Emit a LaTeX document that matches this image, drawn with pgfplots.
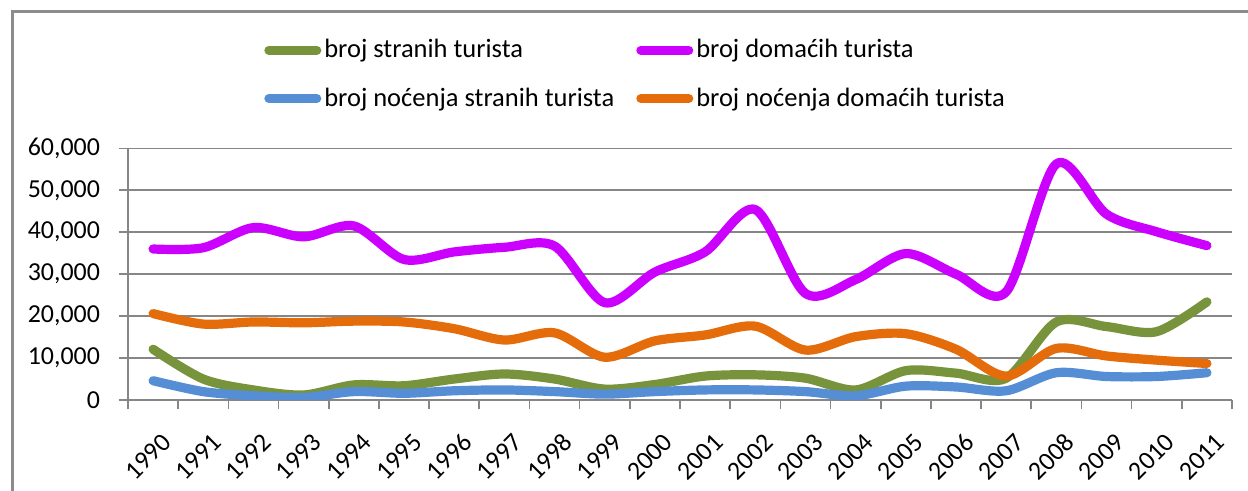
\documentclass[border=0pt]{standalone}
\usepackage{fontspec}
\setmainfont{Carlito}
\usepackage{pgfplots}
\pgfplotsset{compat=1.18}
\definecolor{cgreen}{RGB}{119,147,60}
\definecolor{cmag}{RGB}{204,0,255}
\definecolor{cblue}{RGB}{85,142,213}
\definecolor{corange}{RGB}{228,108,10}
\definecolor{gridgray}{RGB}{134,134,134}
\definecolor{framegray}{RGB}{140,140,140}
\begin{document}
\begin{tikzpicture}
\useasboundingbox (0,0) rectangle (624bp,245.5bp);
\draw[framegray, line width=1.3bp] (6.25bp,-2bp) -- (6.25bp,239.75bp) -- (630bp,239.75bp);
\begin{axis}[
  at={(64bp,45.5bp)}, anchor=south west,
  scale only axis, width=552bp, height=125.85bp,
  xmin=-0.5, xmax=21.5, ymin=0, ymax=60000,
  axis x line=bottom, axis y line=left,
  axis line style={draw=gridgray, line width=0.8bp, -},
  xtick={-0.5,0.5,...,21.5},
  x tick label as interval,
  xticklabels={1990,1991,1992,1993,1994,1995,1996,1997,1998,1999,2000,2001,2002,2003,2004,2005,2006,2007,2008,2009,2010,2011},
  ytick={0,10000,20000,30000,40000,50000,60000},
  scaled y ticks=false,
  yticklabel style={xshift=-6bp, /pgf/number format/.cd, fixed, 1000 sep={,}, assume math mode=true},
  ymajorgrids,
  grid style={draw=gridgray, line width=0.8bp},
  tick align=outside,
  major tick length=4.5bp,
  tick style={draw=gridgray, line width=0.8bp},
  ticklabel style={font=\fontsize{13pt}{15pt}\selectfont, text=black},
  xticklabel style={rotate=45, anchor=east, xshift=-2bp, yshift=-15bp},
  legend columns=2,
  legend cell align=left,
  legend style={draw=none, fill=none, at={(0.1177,1.45)}, anchor=north west,
    font=\fontsize{13.3pt}{16pt}\selectfont,
    nodes={inner sep=0pt},
    row sep=13.5bp,
    /tikz/every even column/.append style={column sep=11bp},
    /tikz/every odd column/.append style={column sep=1.5bp}},
  legend image code/.code={\draw[#1, line cap=round] (2.3bp,0bp) -- (26.2bp,0bp);},
  every axis plot/.append style={line width=4.6bp, line cap=round, line join=round, smooth, tension=0.5},
]
\addplot[cgreen] coordinates {(0,12100)(1,5000)(2,2400)(3,1200)(4,3600)(5,3400)(6,5000)(7,6200)(8,5000)(9,2600)(10,3700)(11,5700)(12,6000)(13,5200)(14,2400)(15,7000)(16,6400)(17,5200)(18,18600)(19,17500)(20,16300)(21,23400)};
\addlegendentry{broj stranih turista}
\addplot[cmag] coordinates {(0,36000)(1,36300)(2,41100)(3,38900)(4,41500)(5,33500)(6,35300)(7,36400)(8,36700)(9,23200)(10,30500)(11,35300)(12,45400)(13,25400)(14,28700)(15,34900)(16,30000)(17,25800)(18,56300)(19,44300)(20,40100)(21,36800)};
\addlegendentry{broj domaćih turista}
\addplot[cblue] coordinates {(0,4600)(1,2000)(2,1000)(3,600)(4,2000)(5,1600)(6,2200)(7,2400)(8,2000)(9,1400)(10,2000)(11,2400)(12,2400)(13,2000)(14,1000)(15,3300)(16,3100)(17,2200)(18,6500)(19,5600)(20,5600)(21,6500)};
\addlegendentry{broj noćenja stranih turista}
\addplot[corange] coordinates {(0,20600)(1,18100)(2,18600)(3,18400)(4,18800)(5,18600)(6,17000)(7,14300)(8,16000)(9,10200)(10,14100)(11,15500)(12,17600)(13,11900)(14,15100)(15,15800)(16,12100)(17,5700)(18,12300)(19,10500)(20,9500)(21,8700)};
\addlegendentry{broj noćenja domaćih turista}
\end{axis}
\end{tikzpicture}
\end{document}
